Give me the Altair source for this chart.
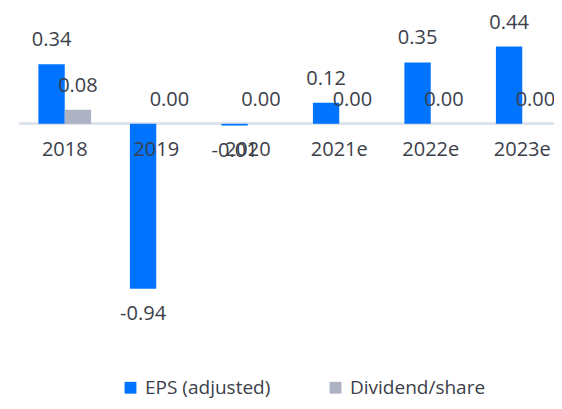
import altair as alt
import pandas as pd

years = ["2018", "2019", "2020", "2021e", "2022e", "2023e"]
eps = [0.34, -0.94, -0.01, 0.12, 0.35, 0.44]
dps = [0.08, 0.00, 0.00, 0.00, 0.00, 0.00]
series = ["EPS (adjusted)", "Dividend/share"]
colors = ["#0073FF", "#AEB3C3"]

FONT = "Open Sans"
TXT = "#3b4049"
FS = 20

rows = []
for i, yr in enumerate(years):
    for s, vals in zip(series, [eps, dps]):
        v = vals[i]
        rows.append({"year": yr, "series": s, "value": v, "label": f"{v:.2f}"})
df = pd.DataFrame(rows)
ydf = pd.DataFrame({"year": years, "zero": [0.0] * len(years)})

xs = alt.Scale(domain=years, range=[0, 549], paddingInner=0.424, paddingOuter=0.212)
ys = alt.Scale(domain=[-1.58, 0.66])
xo = alt.XOffset("series:N", sort=series, scale=alt.Scale(paddingInner=0, paddingOuter=0))

x = alt.X("year:N", sort=years, scale=xs, axis=None)

rule = alt.Chart(ydf).mark_rule(color="#dde3ea", strokeWidth=2).encode(
    y=alt.Y("zero:Q", scale=ys, axis=None)
)

bars = alt.Chart(df).mark_bar().encode(
    x=x,
    xOffset=xo,
    y=alt.Y("value:Q", scale=ys, axis=None),
    color=alt.Color(
        "series:N",
        sort=series,
        scale=alt.Scale(domain=series, range=colors),
        legend=alt.Legend(
            orient="none", legendX=102, legendY=370, direction="horizontal",
            title=None, symbolType="square", symbolSize=140, symbolStrokeWidth=0,
            labelFont=FONT, labelFontSize=19, labelColor=TXT,
            columnPadding=55, labelOffset=5,
        ),
    ),
)

pos = alt.Chart(df).transform_filter("datum.value >= 0").mark_text(
    font=FONT, fontSize=FS, color=TXT, dy=-24, baseline="middle"
).encode(x=x, xOffset=xo, y=alt.Y("value:Q", scale=ys, axis=None), text="label:N")

neg = alt.Chart(df).transform_filter("datum.value < 0").mark_text(
    font=FONT, fontSize=FS, color=TXT, dy=25, baseline="middle"
).encode(x=x, xOffset=xo, y=alt.Y("value:Q", scale=ys, axis=None), text="label:N")

axl = alt.Chart(ydf).mark_text(
    font=FONT, fontSize=FS, color=TXT, dy=26, baseline="middle"
).encode(x=x, y=alt.Y("zero:Q", scale=ys, axis=None), text="year:N")

chart = alt.layer(rule, bars, pos, neg, axl).properties(
    width=535, height=393, autosize="none",
    padding={"left": 11, "top": 0, "right": 0, "bottom": 0},
).configure_view(stroke=None)

chart.save("out.html", embed_options={"renderer": "svg", "actions": False})
